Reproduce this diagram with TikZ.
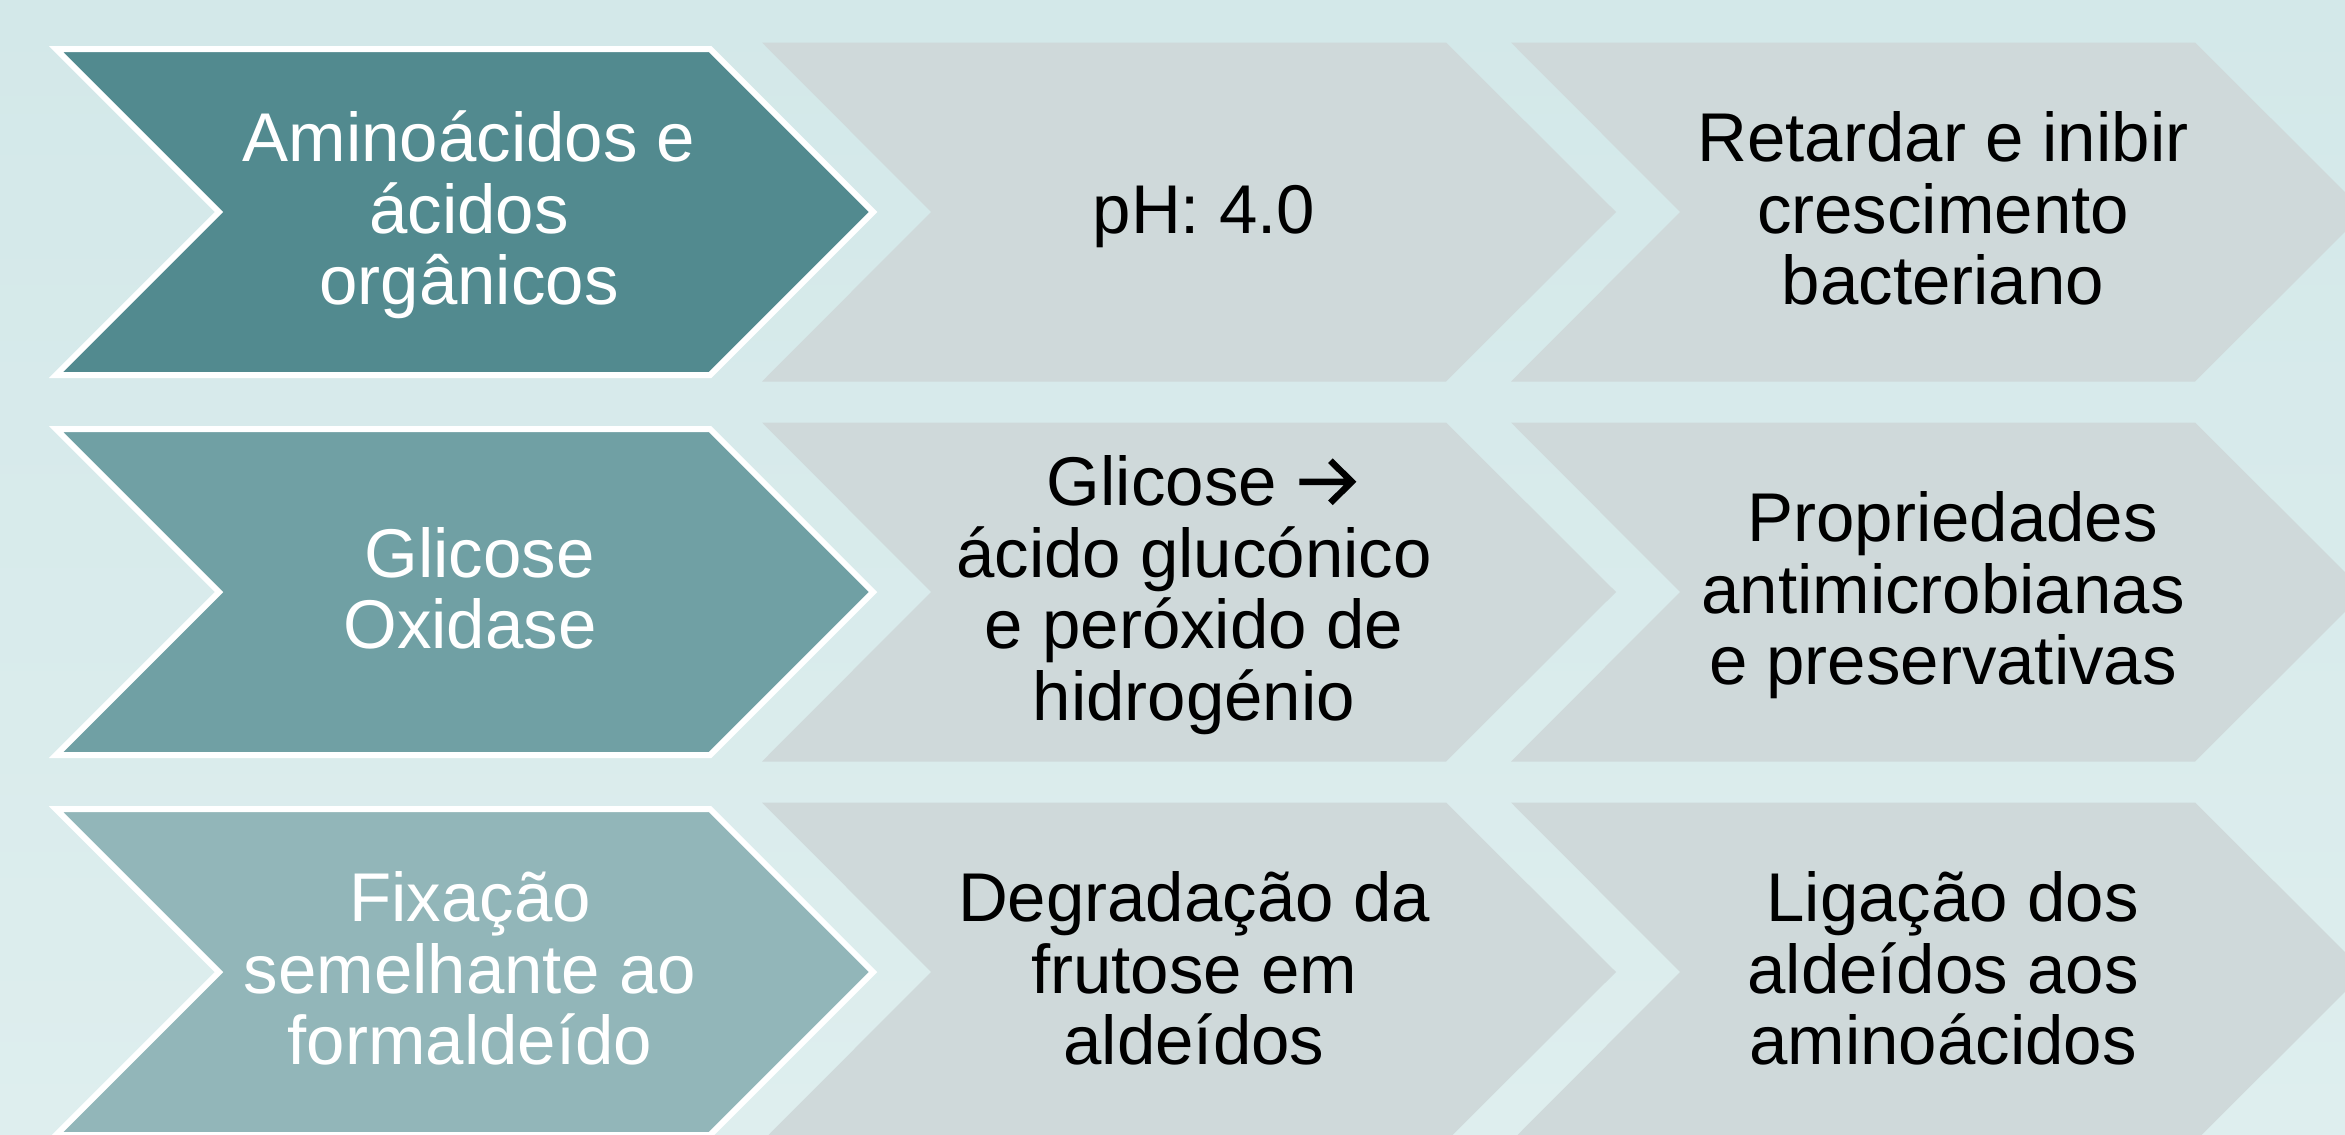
\documentclass[tikz,border=0pt]{standalone}
\usepackage{fontspec}
\setmainfont{Liberation Sans}
\definecolor{bgtop}{HTML}{D3E8E9}
\definecolor{bgbot}{HTML}{DEEEEE}
\definecolor{chevA}{HTML}{528A8F}
\definecolor{chevB}{HTML}{70A0A4}
\definecolor{chevC}{HTML}{92B6B9}
\definecolor{greyc}{HTML}{CFD9DA}
\newcommand\topst{\rule{0pt}{60pt}}
\newcommand\botst{\rule[-20pt]{0pt}{20pt}}
\newcommand\bigarrow{\tikz[baseline=0pt,x=1pt,y=1pt]{\draw[black,line width=6.5pt,line cap=butt,line join=miter]
  (0,24) -- (52,24) (31,45) -- (52.4,24) -- (31,3);}}
\begin{document}
\begin{tikzpicture}[x=1pt,y=-1pt,
  lbl/.style={align=center, inner sep=0pt, font=\fontsize{69}{71.5}\selectfont},
  wlbl/.style={lbl,text=white},
  blbl/.style={lbl,text=black},
  headchev/.style={line width=6pt, draw=white, line join=miter},
  bodychev/.style={fill=greyc}]
\useasboundingbox (0,0) rectangle (2345,1135);
\clip (0,0) rectangle (2345,1135);
\shade[top color=bgtop,bottom color=bgbot] (0,0) rectangle (2345,1135);

\foreach \cy/\col in {212/chevA,592/chevB,972/chevC}{
  \filldraw[headchev, fill=\col] (56,{\cy-163}) -- (710,{\cy-163}) -- (873,\cy)
     -- (710,{\cy+163}) -- (56,{\cy+163}) -- (219,\cy) -- cycle;
  \fill[bodychev] (762,{\cy-169.5}) -- (1446,{\cy-169.5}) -- (1616,\cy)
     -- (1446,{\cy+169.5}) -- (762,{\cy+169.5}) -- (931,\cy) -- cycle;
  \fill[bodychev] (1511,{\cy-169.5}) -- (2195,{\cy-169.5}) -- (2365,\cy)
     -- (2195,{\cy+169.5}) -- (1511,{\cy+169.5}) -- (1680,\cy) -- cycle;
}

\node[wlbl] (a1) at (469,213) {\topst Aminoácidos e\\ácidos\\orgânicos\botst};
\node[blbl] (a2) at (1204,213) {\topst pH: 4.0\botst};
\node[blbl] (a3) at (1943,213) {\topst Retardar e inibir\\crescimento\\bacteriano\botst};

\node[wlbl] (b1) at (470,593) {\topst\ Glicose\\Oxidase\botst};
\node[blbl] (b2) at (1194,593) {\topst\hspace{14pt}Glicose \bigarrow\\ácido glucónico\\e peróxido de\\hidrogénio\botst};
\node[blbl] (b3) at (1943,593) {\topst\ Propriedades\\antimicrobianas\\e preservativas\botst};

\node[wlbl] (c1) at (470,973) {\topst Fixação\\semelhante ao\\formaldeído\botst};
\node[blbl] (c2) at (1194,973) {\topst Degradação da\\frutose em\\aldeídos\botst};
\node[blbl] (c3) at (1943,973) {\topst\ Ligação dos\\aldeídos aos\\aminoácidos\botst};
\end{tikzpicture}
\end{document}
